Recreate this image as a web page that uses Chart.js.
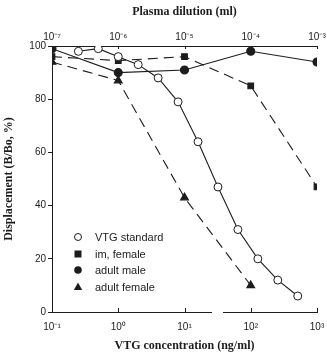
<!DOCTYPE html>
<html>
<head>
<meta charset="utf-8">
<script src="https://cdn.jsdelivr.net/npm/chart.js@4.4.1/dist/chart.umd.min.js"></script>
<style>
  html, body { margin: 0; padding: 0; background: #fff; }
  #wrap { width: 327px; height: 354px; position: relative; }
</style>
</head>
<body>
<div id="wrap"><canvas id="ria"></canvas></div>
<script>
// VTG standard curve (ng/ml, bottom axis)
const vtgConc = [0.25, 0.5, 1, 2, 4, 8, 16, 32, 64, 128, 256, 512];
const vtgDisp = [98, 99, 96, 93, 88, 79, 64, 47, 31, 20, 12, 6];

// plasma dilutions (ml, top axis)
const dilution = [1e-7, 1e-6, 1e-5, 1e-4, 1e-3];
const imFemale = [96, 94.5, 96, 85, 47];
const adultMale = [99, 90, 91, 98, 94];
const adultFemale = [94, 87, 43, 10];

const concTicks = [0.1, 1, 10, 100, 1000];
const concTickLabels = ["10⁻¹", "10⁰", "10¹", "10²", "10³"];
const dilTicks = [1e-7, 1e-6, 1e-5, 1e-4, 1e-3];
const dilTickLabels = ["10⁻⁷", "10⁻⁶", "10⁻⁵", "10⁻⁴", "10⁻³"];
const yTicks = [0, 20, 40, 60, 80, 100];

const ink = "#1c1c1c";
const pts = (xs, ys) => ys.map((y, i) => ({ x: xs[i], y: y }));

// legend inside the plot + inward ticks + break in the bottom axis
const extras = {
  id: "extras",
  afterDraw(chart) {
    const c = chart.ctx;
    const xs = chart.scales.x, x2 = chart.scales.x2, ys = chart.scales.y;
    c.save();
    c.strokeStyle = ink;
    c.lineWidth = 1;
    // inward ticks bottom
    concTicks.forEach(v => {
      const px = Math.round(xs.getPixelForValue(v)) + 0.5;
      c.beginPath(); c.moveTo(px, ys.bottom); c.lineTo(px, ys.bottom - 4); c.stroke();
    });
    dilTicks.forEach(v => {
      const px = Math.round(x2.getPixelForValue(v)) + 0.5;
      c.beginPath(); c.moveTo(px, ys.top); c.lineTo(px, ys.top + 3); c.stroke();
    });
    // axis break
    c.fillStyle = "#fff";
    c.fillRect(212, ys.bottom - 5, 11, 8);

    // legend
    const rows = [
      { label: chart.data.datasets[0].label, shape: "open" },
      { label: chart.data.datasets[1].label, shape: "square" },
      { label: chart.data.datasets[2].label, shape: "circle" },
      { label: chart.data.datasets[3].label, shape: "triangle" }
    ];
    const rowY = [237, 254, 270, 287];
    c.font = "11px 'Liberation Sans', Arial, sans-serif";
    c.textBaseline = "middle";
    c.textAlign = "left";
    rows.forEach((r, i) => {
      const mx = 78, my = rowY[i];
      c.fillStyle = ink;
      c.beginPath();
      if (r.shape === "open") {
        c.arc(mx, my, 3.5, 0, Math.PI * 2);
        c.fillStyle = "#fff"; c.fill(); c.stroke();
      } else if (r.shape === "square") {
        c.fillRect(mx - 3.5, my - 3.5, 7, 7);
      } else if (r.shape === "circle") {
        c.arc(mx, my, 3.8, 0, Math.PI * 2); c.fill();
      } else {
        c.moveTo(mx, my - 4.5); c.lineTo(mx + 4.2, my + 3); c.lineTo(mx - 4.2, my + 3);
        c.closePath(); c.fill();
      }
      c.fillStyle = ink;
      c.fillText(r.label, 95, my + 0.5);
    });
    c.restore();
  }
};

new Chart(document.getElementById("ria"), {
  type: "line",
  data: {
    datasets: [
      {
        label: "VTG standard",
        data: pts(vtgConc, vtgDisp),
        xAxisID: "x",
        borderColor: ink, borderWidth: 1.1,
        pointStyle: "circle", pointRadius: 4,
        pointBackgroundColor: "#fff", pointBorderColor: ink, pointBorderWidth: 1
      },
      {
        label: "im, female",
        data: pts(dilution, imFemale),
        xAxisID: "x2",
        borderColor: ink, borderWidth: 1.1, borderDash: [10, 6],
        pointStyle: "rect", pointRadius: 4,
        pointBackgroundColor: ink, pointBorderColor: ink
      },
      {
        label: "adult male",
        data: pts(dilution, adultMale),
        xAxisID: "x2",
        borderColor: ink, borderWidth: 1.1,
        pointStyle: "circle", pointRadius: 4,
        pointBackgroundColor: ink, pointBorderColor: ink
      },
      {
        label: "adult female",
        data: pts(dilution, adultFemale),
        xAxisID: "x2",
        borderColor: ink, borderWidth: 1.1, borderDash: [10, 6],
        pointStyle: "triangle", pointRadius: 4.5,
        pointBackgroundColor: ink, pointBorderColor: ink
      }
    ]
  },
  options: {
    responsive: true,
    maintainAspectRatio: false,
    animation: false,
    layout: { padding: { right: 0 } },
    plugins: { legend: { display: false }, tooltip: { enabled: false } },
    scales: {
      x: {
        type: "logarithmic", position: "bottom", min: 0.1, max: 1000,
        afterBuildTicks: s => { s.ticks = concTicks.map(v => ({ value: v })); },
        afterFit: s => { s.height = 42; s.paddingRight = 10; s.paddingLeft = 0; },
        grid: { display: false, drawTicks: false },
        border: { display: true, color: ink, width: 1 },
        ticks: {
          color: ink, padding: 9, maxRotation: 0, autoSkip: false,
          font: { family: "'Liberation Sans', Arial, sans-serif", size: 10 },
          callback: (v) => concTickLabels[concTicks.indexOf(v)] ?? ""
        },
        title: {
          display: true, text: "VTG concentration (ng/ml)", color: ink,
          font: { family: "'Liberation Serif', 'Times New Roman', serif", size: 12, weight: "bold" },
          padding: { top: 4, bottom: 1 }
        }
      },
      x2: {
        type: "logarithmic", position: "top", min: 1e-7, max: 1e-3,
        afterBuildTicks: s => { s.ticks = dilTicks.map(v => ({ value: v })); },
        afterFit: s => { s.height = 46; s.paddingRight = 10; s.paddingLeft = 0; },
        grid: { display: false, drawTicks: false },
        border: { display: true, color: ink, width: 1 },
        ticks: {
          color: ink, padding: 3, maxRotation: 0, autoSkip: false,
          font: { family: "'Liberation Sans', Arial, sans-serif", size: 10 },
          callback: (v) => dilTickLabels[dilTicks.indexOf(v)] ?? ""
        },
        title: {
          display: true, text: "Plasma dilution (ml)", color: ink,
          font: { family: "'Liberation Serif', 'Times New Roman', serif", size: 12, weight: "bold" },
          padding: { top: 5, bottom: 4 }
        }
      },
      y: {
        min: 0, max: 100,
        afterBuildTicks: s => { s.ticks = yTicks.map(v => ({ value: v })); },
        afterFit: s => { s.width = 52; },
        grid: { drawOnChartArea: false, tickLength: 4, color: ink },
        border: { display: true, color: ink, width: 1 },
        ticks: {
          color: ink, padding: 2,
          font: { family: "'Liberation Sans', Arial, sans-serif", size: 10 }
        },
        title: {
          display: true, text: "Displacement (B/Bo, %)", color: ink,
          font: { family: "'Liberation Serif', 'Times New Roman', serif", size: 12, weight: "bold" },
          padding: { top: 2, bottom: 2 }
        }
      }
    }
  },
  plugins: [extras]
});
</script>
</body>
</html>
